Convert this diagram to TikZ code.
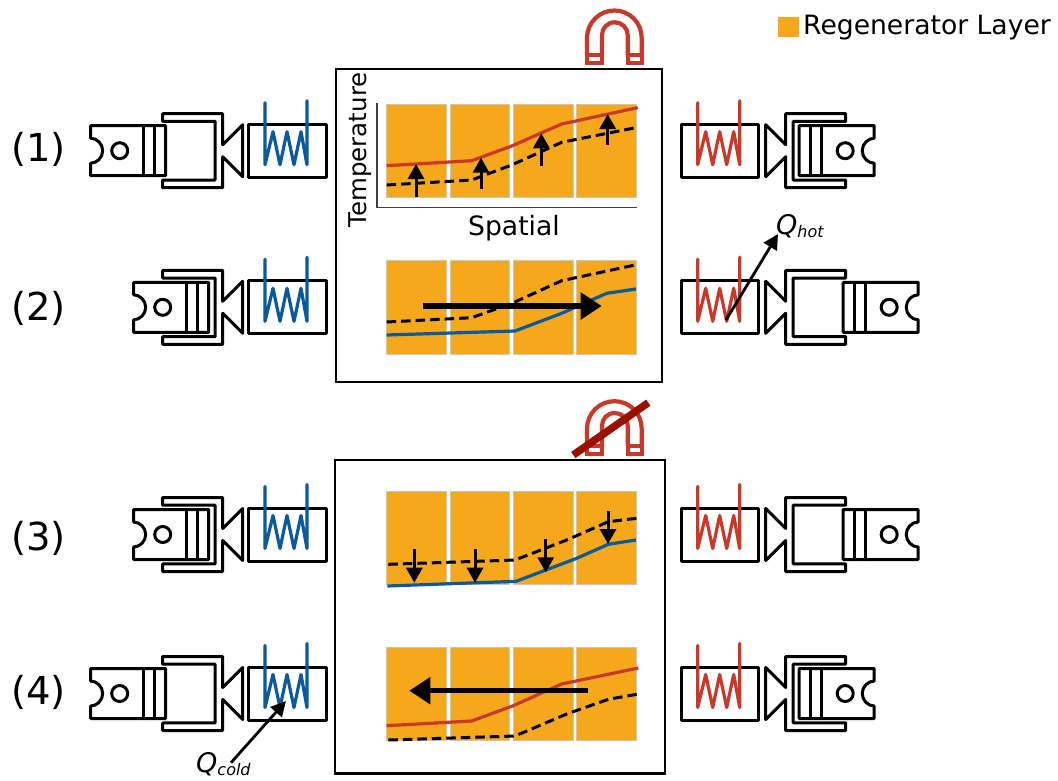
\documentclass[tikz,border=0pt]{standalone}
\usepackage{fontspec}
\setmainfont{DejaVu Sans}
\usetikzlibrary{arrows.meta}
\definecolor{regen}{HTML}{F5A81C}
\definecolor{regenedge}{HTML}{CBC6BC}
\definecolor{hotred}{HTML}{C93829}
\definecolor{coldblue}{HTML}{0A5A9C}
\definecolor{barred}{HTML}{991100}
\tikzset{
  outline/.style={draw=black,line width=3pt,line join=round,line cap=round},
  panel/.style={draw=black,line width=2.6pt},
  regenblock/.style={fill=regen,draw=regenedge,line width=0.8pt},
  hotcurve/.style={draw=hotred,line width=3.2pt,line join=round},
  coldcurve/.style={draw=coldblue,line width=3.2pt,line join=round},
  prevcurve/.style={draw=black,line width=3pt,dash pattern=on 9.5pt off 5pt,line join=round},
  riser/.style={draw=black,line width=3pt,-{Triangle[length=15pt,width=16pt]}},
  flow/.style={draw=black,line width=5.5pt,-{Triangle[length=21pt,width=26pt]}},
  heat/.style={draw=black,line width=2.8pt,-{Triangle[length=15pt,width=15pt]}},
  coilline/.style={line width=3.2pt,line join=round,line cap=round},
  rowlabel/.style={inner sep=0pt,font=\fontsize{38.5}{44}\selectfont},
  textlabel/.style={inner sep=0pt,font=\fontsize{26.6}{31}\selectfont},
  magnetline/.style={draw=hotred,line width=4.2pt,line join=miter}
}
% cylinder, valve and piston: wall x, centre y, direction, piston offset
\newcommand{\compressor}[4]{%
  \begin{scope}[shift={(#1,#2)},xscale=#3]
    \draw[outline] (0,-6) -- (-20,-26) -- (-20,26) -- (0,6) -- (0,37) -- (60,37) -- (60,29.3)
      -- (7.5,29.3) -- (7.5,-29.3) -- (60,-29.3) -- (60,-37) -- (0,-37) -- cycle;
    \draw[outline] (#4+63,0) .. controls (#4+63,-7) and (#4+69,-12.5) .. (#4+75,-12.5)
      -- (#4+75,-25) -- (#4,-25) -- (#4,25) -- (#4+75,25) -- (#4+75,12.5)
      .. controls (#4+69,12.5) and (#4+63,7) .. (#4+63,0);
    \draw[outline] (#4+11,-25) -- (#4+11,25) (#4+22,-25) -- (#4+22,25);
    \draw[outline] (#4+46,0) circle[radius=8];
  \end{scope}}
% heat exchanger: left lead x, centre y, colour
\newcommand{\exchanger}[3]{%
  \begin{scope}[shift={(#1,#2)}]
    \draw[outline] (-16.5,-26.5) rectangle (61,26.5);
    \draw[coilline,draw=#3] (0,-48) -- (0,14) -- (8,-19) -- (15,14) -- (22,-19) -- (29,14) -- (36,-19) -- (42,14) -- (42,-50);
  \end{scope}}
% regenerator blocks: top y
\newcommand{\blocks}[1]{%
  \fill[regenblock] (386.7,#1) rectangle ++(59.5,93.4);
  \fill[regenblock] (450.3,#1) rectangle ++(59.5,93.4);
  \fill[regenblock] (513.5,#1) rectangle ++(59.5,93.4);
  \fill[regenblock] (576.8,#1) rectangle ++(59.5,93.4);}
% magnet: y shift
\newcommand{\magnet}[1]{%
  \begin{scope}[shift={(0,#1)}]
    \draw[magnetline] (587,55) -- (587,38) .. controls (587,22.8) and (599.3,10.5) .. (614.5,10.5)
      .. controls (629.7,10.5) and (641.7,22.8) .. (641.7,38) -- (641.7,55);
    \draw[magnetline] (602,55) -- (602,35) .. controls (602,28) and (607.5,22.3) .. (614.8,22.3)
      .. controls (622,22.3) and (627.7,28) .. (627.7,35) -- (627.7,55);
    \draw[magnetline] (587,55.3) rectangle (602,63);
    \draw[magnetline] (627.7,55.3) rectangle (641.7,63);
  \end{scope}}
\begin{document}
\begin{tikzpicture}[x=1pt,y=-1pt]
\useasboundingbox (0,0) rectangle (1058,780);
\fill[white] (0,0) rectangle (1058,780);

% legend
\fill[regen] (778,17) rectangle (799,37);
\node[textlabel,anchor=west] (legend) at (803,28) {Regenerator Layer};

% row labels
\node[rowlabel] (r1) at (38.5,149) {(1)};
\node[rowlabel] (r2) at (38.5,308) {(2)};
\node[rowlabel] (r3) at (38.5,538) {(3)};
\node[rowlabel] (r4) at (38.5,692) {(4)};

% panels
\draw[panel] (336,69) rectangle (662,382);
\draw[panel] (335,460) rectangle (665,773.5);

% magnets
\magnet{0}
\magnet{390.7}
\draw[barred,line width=7.5pt] (573.3,455) -- (648.3,402.7);

% compressors and exchangers
\compressor{222.7}{150.7}{-1}{57}
\exchanger{265}{150.7}{coldblue}
\compressor{785.7}{150.7}{1}{13.5}
\exchanger{697.7}{150.7}{hotred}

\compressor{222.7}{307.3}{-1}{14}
\exchanger{265}{307.3}{coldblue}
\compressor{785.7}{307.3}{1}{57.5}
\exchanger{697.7}{307.3}{hotred}

\compressor{222.7}{534.5}{-1}{14}
\exchanger{265}{534.5}{coldblue}
\compressor{785.7}{534.5}{1}{57.5}
\exchanger{697.7}{534.5}{hotred}

\compressor{222.7}{693.5}{-1}{57}
\exchanger{265}{693.5}{coldblue}
\compressor{785.7}{693.5}{1}{13.5}
\exchanger{697.7}{693.5}{hotred}

% regenerator 1
\blocks{104.3}
\draw[draw=black!75,line width=1.6pt] (376.7,103) -- (376.7,207.5) -- (637,207.5);
\draw[hotcurve] (386.7,165.7) -- (471.7,160.7) -- (511.7,146) -- (561.7,124) -- (637.7,107.7);
\draw[prevcurve] (386.7,185) -- (471.7,180) -- (511.7,165) -- (561.7,142.3) -- (637.7,127.3);
\coordinate (u1a) at (416,196.7); \coordinate (u1b) at (416,164);
\coordinate (u2a) at (481,189);   \coordinate (u2b) at (481,157.7);
\coordinate (u3a) at (541.3,165.7); \coordinate (u3b) at (541.3,133.3);
\coordinate (u4a) at (607.7,145); \coordinate (u4b) at (607.7,114);
\draw[riser] (u1a) -- (u1b);
\draw[riser] (u2a) -- (u2b);
\draw[riser] (u3a) -- (u3b);
\draw[riser] (u4a) -- (u4b);
\node[textlabel,rotate=90] (tlabel) at (360,150) {\fontsize{24.5}{28}\selectfont Temperature};
\node[textlabel] (slabel) at (514,228) {Spatial};

% regenerator 2
\blocks{260.7}
\draw[coldcurve] (386.7,335) -- (515,331) -- (561.7,313.3) -- (606.7,293.3) -- (636,289);
\draw[prevcurve] (386.7,322) -- (471.7,317.7) -- (513.3,302.7) -- (561.7,280.7) -- (638.3,264.3);
\coordinate (f2a) at (423,306); \coordinate (f2b) at (601.7,306);
\draw[flow] (f2a) -- (f2b);

% regenerator 3
\blocks{491.3}
\draw[coldcurve] (387.3,586) -- (516,581.3) -- (576.7,558.3) -- (608.3,544.3) -- (636,540);
\draw[prevcurve] (388.3,564.3) -- (515,560) -- (566.7,540) -- (608.3,521.7) -- (636.7,518.3);
\coordinate (d1a) at (414.3,549.3); \coordinate (d1b) at (414.3,582.7);
\coordinate (d2a) at (475,549.3);   \coordinate (d2b) at (475,582.7);
\coordinate (d3a) at (545.7,539.3); \coordinate (d3b) at (545.7,572.3);
\coordinate (d4a) at (608,511);     \coordinate (d4b) at (608,544);
\draw[riser] (d1a) -- (d1b);
\draw[riser] (d2a) -- (d2b);
\draw[riser] (d3a) -- (d3b);
\draw[riser] (d4a) -- (d4b);

% regenerator 4
\blocks{647.3}
\draw[hotcurve] (386.7,725.7) -- (471.7,721) -- (513.3,705.7) -- (561.7,684) -- (638.3,668);
\draw[prevcurve] (388.3,740) -- (515,736) -- (566.7,714) -- (608.3,699.3) -- (636.7,694.3);
\coordinate (f4a) at (587.7,690.7); \coordinate (f4b) at (409.3,690.7);
\draw[flow] (f4a) -- (f4b);

% heat labels and arrows
\node[inner sep=0pt,anchor=base west] (qhot) at (776,234) {\fontsize{27}{30}\selectfont\itshape Q\raisebox{-3pt}{\fontsize{16}{18}\selectfont hot}};
\node[inner sep=0pt,anchor=base west] (qcold) at (196,772.5) {\fontsize{27}{30}\selectfont\itshape Q\raisebox{-3pt}{\fontsize{16}{18}\selectfont cold}};
\coordinate (qhs) at (726,320); \coordinate (qht) at (778,234);
\coordinate (qcs) at (231,762.7); \coordinate (qct) at (286,701);
\draw[heat] (qhs) -- (qht);
\draw[heat] (qcs) -- (qct);
\end{tikzpicture}
\end{document}
